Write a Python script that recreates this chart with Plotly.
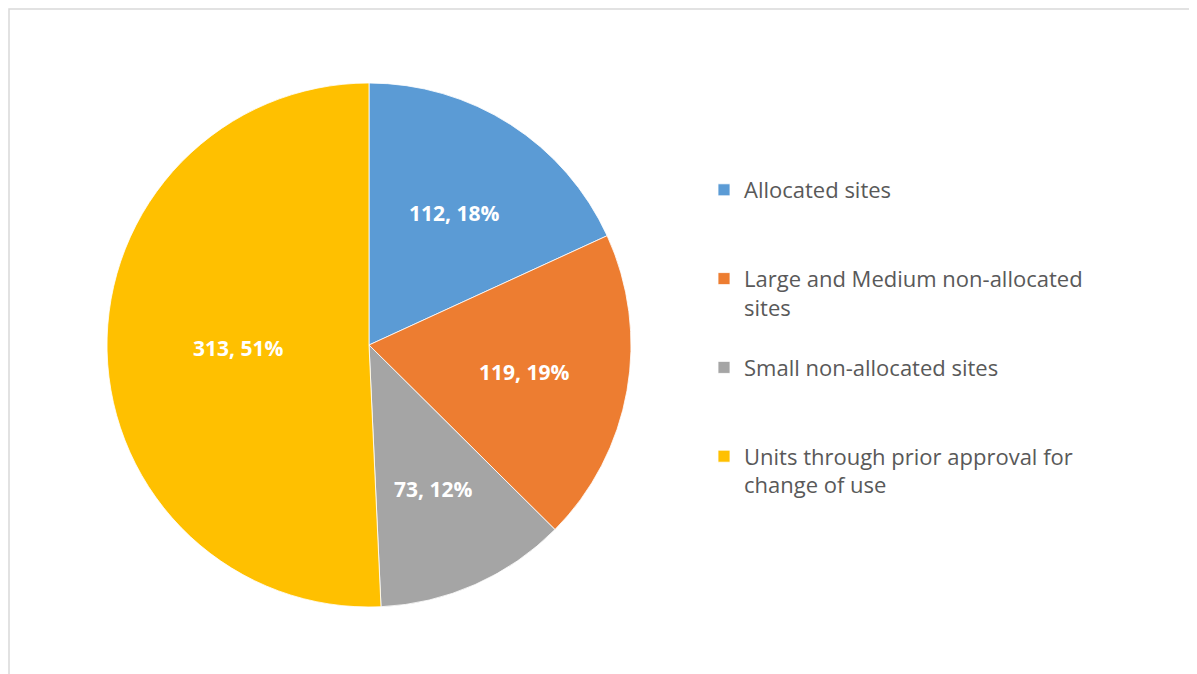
import math
import textwrap
import plotly.graph_objects as go

categories = [
    "Allocated sites",
    "Large and Medium non-allocated sites",
    "Small non-allocated sites",
    "Units through prior approval for change of use",
]
units = [112, 119, 73, 313]
colors = ["#5B9BD5", "#ED7D31", "#A5A5A5", "#FFC000"]


def legend_label(name, width=32, lines=3):
    parts = textwrap.wrap(name, width=width)
    while len(parts) < lines:
        parts.append("\u00a0")
    return "<br>".join(parts)


labels = [legend_label(c) for c in categories]

W, H = 1197, 674
cx, cy, r = 361, 337, 262

fig = go.Figure(
    go.Pie(
        labels=labels,
        values=units,
        sort=False,
        direction="clockwise",
        rotation=0,
        marker=dict(colors=colors, line=dict(color="white", width=0.8)),
        textinfo="none",
        hoverinfo="label+value+percent",
        domain=dict(
            x=[(cx - r) / W, (cx + r) / W],
            y=[(H - cy - r) / H, (H - cy + r) / H],
        ),
    )
)

# data labels "value, percent" placed along each slice's bisector
total = sum(units)
annotations = []
cum = 0.0
for v in units:
    share = v / total
    mid = (cum + share / 2) * 2 * math.pi
    cum += share
    f = 0.5 if share > 0.5 else 0.6
    px = cx + f * r * math.sin(mid)
    py = cy - f * r * math.cos(mid)
    annotations.append(
        dict(
            x=px / W,
            y=1 - py / H,
            xref="paper",
            yref="paper",
            text=f"{v}, {round(share * 100)}%",
            showarrow=False,
            font=dict(family="Open Sans", size=21, color="white", weight="bold"),
            xanchor="center",
            yanchor="middle",
        )
    )

fig.update_layout(
    width=W,
    height=H,
    margin=dict(l=0, r=0, t=0, b=0),
    paper_bgcolor="white",
    plot_bgcolor="white",
    showlegend=True,
    annotations=annotations,
    legend=dict(
        x=696 / W,
        xanchor="left",
        y=1 - 161 / H,
        yanchor="top",
        valign="top",
        itemwidth=30,
        font=dict(family="Open Sans", size=22, color="#595959"),
        bgcolor="rgba(0,0,0,0)",
    ),
    shapes=[
        dict(
            type="rect",
            xref="paper",
            yref="paper",
            x0=1 / W,
            x1=1.02,
            y0=-0.02,
            y1=1 - 1 / H,
            line=dict(color="#D9D9D9", width=1.5),
            fillcolor="rgba(0,0,0,0)",
            layer="below",
        )
    ],
)

fig.write_html("out.html")
